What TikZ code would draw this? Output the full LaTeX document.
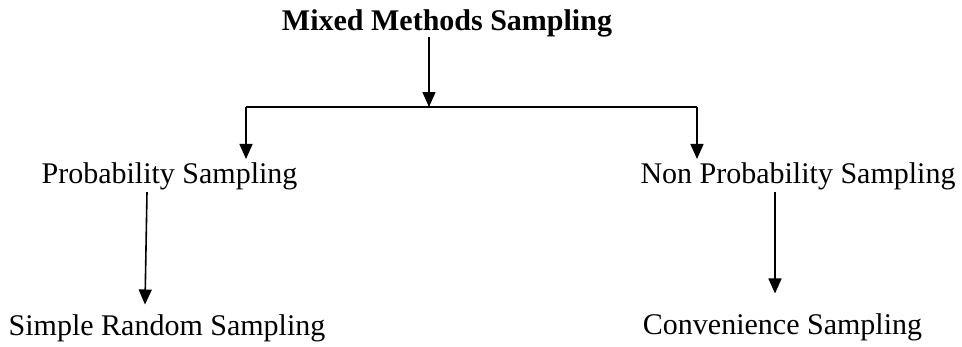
\documentclass[tikz,border=0pt]{standalone}
\usepackage{fontspec}
\setmainfont{Liberation Serif}
\usetikzlibrary{arrows.meta}
\begin{document}
\begin{tikzpicture}[x=1pt,y=-1pt,
  lbl/.style={inner sep=0pt,anchor=base,font=\fontsize{30}{36}\selectfont},
  link/.style={line width=1.6pt},
  arr/.style={link,-{Triangle[length=15pt,width=13pt]}}]
  \useasboundingbox (0,0) rectangle (962,346);

  % labels
  \node[lbl,font=\fontsize{30}{36}\selectfont\bfseries] (mixed) at (447,30) {Mixed Methods Sampling};
  \node[lbl] (prob) at (169.5,183) {Probability Sampling};
  \node[lbl] (nonprob) at (798,183) {Non Probability Sampling};
  \node[lbl] (simple) at (167,335) {Simple Random Sampling};
  \node[lbl] (conv) at (782.5,334) {Convenience Sampling};

  % branching bar
  \coordinate (bar) at (429,107);
  \coordinate (barL) at (246,107);
  \coordinate (barR) at (697,107);

  \draw[arr] (mixed.south -| bar) -- (bar);
  \draw[link] (barL) -- (barR);
  \draw[arr] (barL) -- ([yshift=3pt]prob.north -| barL);
  \draw[arr] (barR) -- ([yshift=3pt]nonprob.north -| barR);

  \draw[arr] ([xshift=-22.5pt,yshift=-2.5pt]prob.south) -- ([xshift=-22pt,yshift=9.5pt]simple.north);
  \draw[arr] ([xshift=-23pt,yshift=-2.5pt]nonprob.south) -- ([xshift=-7.5pt,yshift=19.5pt]conv.north);
\end{tikzpicture}
\end{document}
